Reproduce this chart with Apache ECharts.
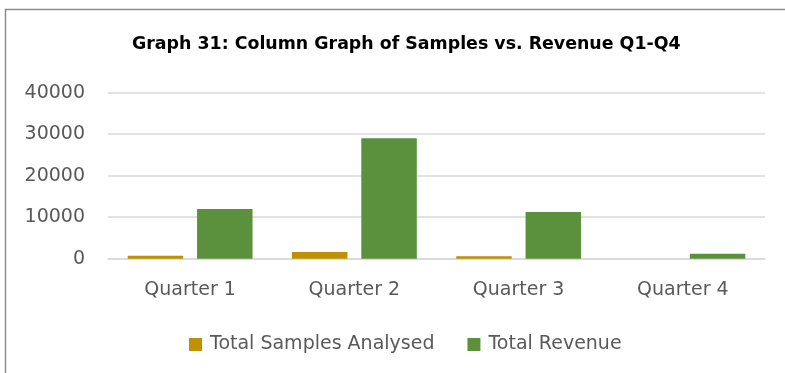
<!DOCTYPE html>
<html>
<head>
<meta charset="utf-8">
<script src="https://cdn.jsdelivr.net/npm/echarts@6/dist/echarts.min.js"></script>
<style>
  html, body { margin: 0; padding: 0; background: #ffffff; }
  #chart { width: 785px; height: 373px; }
</style>
</head>
<body>
<div id="chart"></div>
<script>
// Quarterly figures
const quarters = ['Quarter 1', 'Quarter 2', 'Quarter 3', 'Quarter 4'];
const samplesAnalysed = [700, 1600, 620, 0];
const revenue = [12000, 29000, 11250, 1200];
const yTicks = [0, 10000, 20000, 30000, 40000];

const labelFont = 'DejaVu Sans';
const textGrey = '#595959';

const chart = echarts.init(document.getElementById('chart'), null, { renderer: 'canvas' });

chart.setOption({
  backgroundColor: '#ffffff',
  animation: false,
  title: {
    text: 'Graph 31: Column Graph of Samples vs. Revenue Q1-Q4',
    left: 127,
    top: 31,
    textStyle: { fontFamily: labelFont, fontWeight: 'bold', fontSize: 17.4, color: '#000000' }
  },
  // chart-area frame along the top and left edges
  graphic: [{
    type: 'polyline',
    shape: { points: [[5.5, 373], [5.5, 9.5], [785, 9.5]] },
    style: { stroke: '#8c8c8c', lineWidth: 1.5, fill: null },
    silent: true
  }],
  legend: {
    left: 184,
    top: 330,
    itemWidth: 13,
    itemHeight: 13,
    itemGap: 33,
    icon: 'rect',
    textStyle: { fontFamily: labelFont, fontSize: 19, color: textGrey, padding: [0, 0, 0, 3] },
    data: ['Total Samples Analysed', 'Total Revenue']
  },
  grid: { left: 108, right: 20, top: 92.7, bottom: 114.3, containLabel: false },
  xAxis: {
    type: 'category',
    data: quarters,
    axisLine: { lineStyle: { color: '#d9d9d9', width: 1.5 } },
    axisTick: { show: false },
    axisLabel: { fontFamily: labelFont, fontSize: 19, color: textGrey, margin: 22 }
  },
  yAxis: {
    type: 'value',
    min: yTicks[0],
    max: yTicks[yTicks.length - 1],
    interval: yTicks[1] - yTicks[0],
    axisLine: { show: false },
    axisTick: { show: false },
    splitLine: { lineStyle: { color: '#d9d9d9', width: 1.5 } },
    axisLabel: {
      fontFamily: labelFont, fontSize: 19, color: textGrey, margin: 23,
      formatter: (v) => String(v)
    }
  },
  series: [
    {
      name: 'Total Samples Analysed',
      type: 'bar',
      data: samplesAnalysed,
      itemStyle: { color: '#bf9000' },
      barGap: '25%',
      barCategoryGap: '24%'
    },
    {
      name: 'Total Revenue',
      type: 'bar',
      data: revenue,
      itemStyle: { color: '#5b903c' },
      barGap: '25%',
      barCategoryGap: '24%'
    }
  ]
});
</script>
</body>
</html>
